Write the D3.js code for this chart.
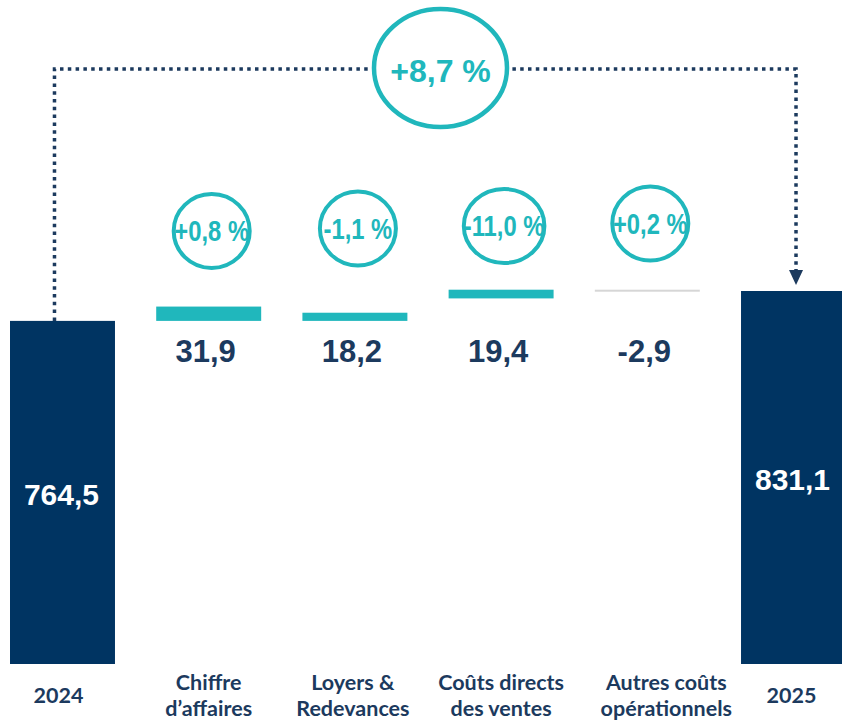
<!DOCTYPE html>
<html>
<head>
<meta charset="utf-8">
<script src="https://cdn.jsdelivr.net/npm/d3@7"></script>
<style>
  html, body { margin: 0; padding: 0; background: #fff; overflow: hidden; }
</style>
</head>
<body>
<script>
// chart data
var categories = ["2024", "Chiffre d’affaires", "Loyers & Redevances", "Coûts directs des ventes", "Autres coûts opérationnels", "2025"];
var labelLines = [["2024"], ["Chiffre", "d’affaires"], ["Loyers &", "Redevances"], ["Coûts directs", "des ventes"], ["Autres coûts", "opérationnels"], ["2025"]];
var values = [764.5, 31.9, 18.2, 19.4, -2.9, 831.1];
var barBase = [0, 764.5, 764.5, 814.6, 834.0, 0];   // where each bar starts, as drawn
var isTotal = [true, false, false, false, false, true];
var pctLabels = ["+0,8 %", "-1,1 %", "-11,0 %", "+0,2 %"];
var totalChange = "+8,7 %";

var w = 842, h = 723;
var navy = "#003462", textNavy = "#1c3a5e", teal = "#20b7bc", grey = "#d6d6d6";

var svg = d3.select("body").append("svg")
  .attr("width", w)
  .attr("height", h);

var x = d3.scaleBand()
  .domain(categories)
  .range([10, 846])
  .paddingInner(0.282)
  .paddingOuter(0);

var y = d3.scaleLinear()
  .domain([0, 831.1])
  .range([664, 291]);

var rows = categories.map(function(c, i) {
  var a = barBase[i], b = barBase[i] + values[i];
  return { cat: c, i: i, v: values[i], lo: Math.min(a, b), hi: Math.max(a, b) };
});

function cx(d) { return x(d.cat) + x.bandwidth() / 2; }
function fmt(v) { return d3.format(".1f")(v).replace(".", ",").replace("−", "-"); }

// bars
svg.selectAll("rect.bar")
  .data(rows)
  .enter()
  .append("rect")
  .attr("class", "bar")
  .attr("x", function(d) { return x(d.cat); })
  .attr("width", x.bandwidth())
  .attr("y", function(d) { return y(d.hi); })
  .attr("height", function(d) { return Math.max(2, y(d.lo) - y(d.hi)); })
  .attr("fill", function(d) {
    if (isTotal[d.i]) return navy;
    return d.v < 0 ? grey : teal;
  });

// values inside total bars
svg.selectAll("text.total")
  .data(rows.filter(function(d) { return isTotal[d.i]; }))
  .enter()
  .append("text")
  .attr("class", "total")
  .attr("x", function(d) { return cx(d) - 1; })
  .attr("y", function(d) { return d.i === 0 ? 505 : 490; })
  .attr("text-anchor", "middle")
  .attr("font-family", "Liberation Sans, Arial, sans-serif")
  .attr("font-weight", "bold")
  .attr("font-size", "30px")
  .attr("fill", "#fff")
  .text(function(d) { return fmt(d.v); });

// values under step bars
var steps = rows.filter(function(d) { return !isTotal[d.i]; });
svg.selectAll("text.step")
  .data(steps)
  .enter()
  .append("text")
  .attr("class", "step")
  .attr("x", function(d) { return cx(d) - 3; })
  .attr("y", 362)
  .attr("text-anchor", "middle")
  .attr("font-family", "Liberation Sans, Arial, sans-serif")
  .attr("font-weight", "bold")
  .attr("font-size", "31px")
  .attr("fill", textNavy)
  .text(function(d) { return fmt(d.v); });

// percentage bubbles (condensed text)
var squeeze = 0.82;
var bubbles = svg.selectAll("g.bubble")
  .data(steps)
  .enter()
  .append("g")
  .attr("class", "bubble")
  .attr("transform", function(d, k) { return "translate(" + (cx(d) + 3) + "," + (231 - k * 2.5) + ")"; });

bubbles.append("ellipse")
  .attr("fill", "none")
  .attr("stroke", teal)
  .attr("stroke-width", 4);

bubbles.append("text")
  .attr("y", 10)
  .attr("transform", "scale(" + squeeze + ",1)")
  .attr("text-anchor", "middle")
  .attr("font-family", "Liberation Sans, Arial, sans-serif")
  .attr("font-weight", "bold")
  .attr("font-size", "29px")
  .attr("fill", teal)
  .text(function(d, k) { return pctLabels[k]; })
  .each(function() {
    var bw = this.getBBox().width * squeeze;
    d3.select(this.parentNode).select("ellipse")
      .attr("rx", Math.max(38, bw / 2))
      .attr("ry", 37);
  });

// connector 2024 -> 2025
var x0 = cx(rows[0]) - 8, x1 = cx(rows[5]) + 2.5, topY = 69;
svg.append("path")
  .attr("d", "M" + x0 + "," + y(values[0]) + "V" + topY + "H" + x1 + "V" + (y(values[5]) - 18))
  .attr("fill", "none")
  .attr("stroke", textNavy)
  .attr("stroke-width", 3.5)
  .attr("stroke-dasharray", "3.5,4.3");

svg.append("path")
  .attr("d", "M" + (x1 - 7) + "," + (y(values[5]) - 21) + "L" + (x1 + 7) + "," + (y(values[5]) - 21) + "L" + x1 + "," + (y(values[5]) - 6) + "Z")
  .attr("fill", textNavy);

var big = svg.append("g").attr("transform", "translate(440.5,68)");
big.append("ellipse")
  .attr("rx", 66.5)
  .attr("ry", 59)
  .attr("fill", "#fff")
  .attr("stroke", teal)
  .attr("stroke-width", 4.5);
big.append("text")
  .attr("y", 14)
  .attr("text-anchor", "middle")
  .attr("font-family", "Liberation Sans, Arial, sans-serif")
  .attr("font-weight", "bold")
  .attr("font-size", "32px")
  .attr("fill", teal)
  .text(totalChange);

// category labels
var labelShift = [-4, 0, -2, 0, 19, -2];
svg.selectAll("text.cat")
  .data(rows)
  .enter()
  .append("text")
  .attr("class", "cat")
  .attr("text-anchor", "middle")
  .attr("font-family", "Lato, sans-serif")
  .attr("font-weight", "bold")
  .attr("font-size", "21.5px")
  .attr("fill", textNavy)
  .each(function(d) {
    var lines = labelLines[d.i];
    var t = d3.select(this);
    var startY = lines.length === 1 ? 703 : 690;
    lines.forEach(function(l, j) {
      t.append("tspan")
        .attr("x", cx(d) + labelShift[d.i])
        .attr("y", startY + j * 26)
        .text(l);
    });
  });
</script>
</body>
</html>
